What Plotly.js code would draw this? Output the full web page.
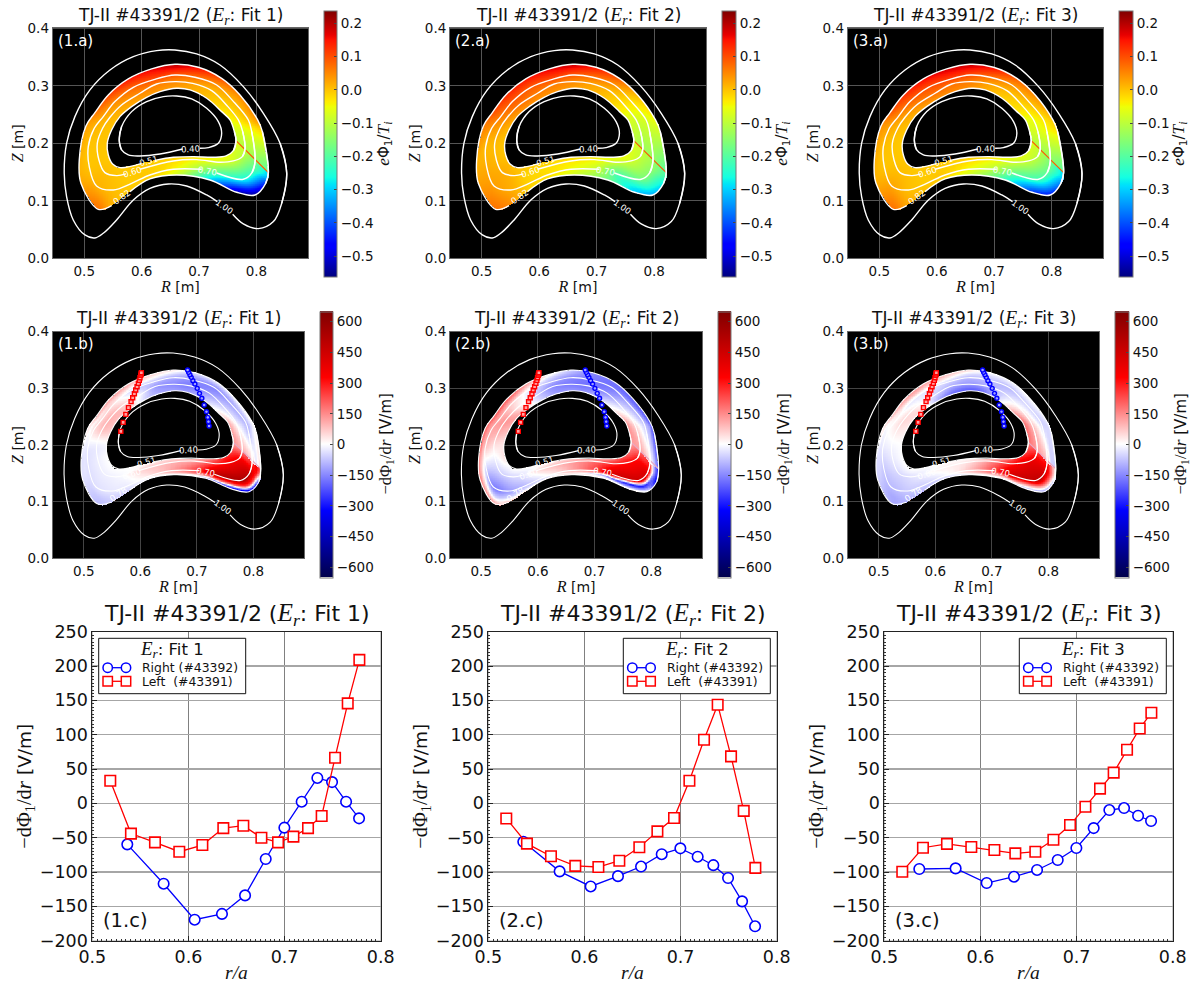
<!DOCTYPE html>
<html><head><meta charset="utf-8">
<script src="https://cdn.plot.ly/plotly-3.0.1.min.js"></script>
<style>html,body{margin:0;padding:0;background:#fff}</style></head>
<body><div id="chart" style="width:1195px;height:987px"></div>
<script>
// ---- flux surfaces, stations along the surface starting at the seam (R, Z in m)
const R51=[.7645,.7599,.7471,.7250,.6901,.6552,.6233,.6000,.5622,.5494,.5419,.5401,.5477,.5622,.5826,.6087,.6320,.6610,.6843,.7134,.7395,.7541,.7616,.7645];
const Z51=[.2046,.1872,.1780,.1757,.1768,.1757,.1704,.1652,.1577,.1641,.1797,.2000,.2232,.2464,.2638,.2800,.2899,.2957,.2928,.2783,.2551,.2406,.2203,.2046];
const R60=[.7802,.7756,.7599,.7366,.6959,.6552,.5971,.5727,.5564,.5360,.5256,.5227,.5320,.5448,.5651,.5971,.6262,.6581,.6890,.7221,.7494,.7686,.7762,.7802];
const Z60=[.1901,.1768,.1693,.1670,.1716,.1693,.1548,.1467,.1438,.1490,.1710,.2000,.2261,.2452,.2667,.2870,.3032,.3072,.3043,.2916,.2649,.2406,.2203,.1901];
const R70=[.7977,.7924,.7773,.7308,.7047,.6552,.6145,.5826,.5506,.5215,.5087,.5070,.5174,.5331,.5535,.5855,.6233,.6581,.6930,.7308,.7587,.7860,.7919,.7977];
const Z70=[.1681,.1490,.1374,.1484,.1548,.1548,.1449,.1304,.1188,.1258,.1594,.1942,.2261,.2464,.2725,.2974,.3113,.3188,.3148,.3014,.2742,.2406,.2203,.1681];
const R82=[.8209,.8163,.7977,.7657,.7192,.6610,.6145,.5797,.5477,.5244,.4942,.4913,.5029,.5186,.5419,.5767,.6174,.6581,.6988,.7395,.7715,.8023,.8105,.8209];
const Z82=[.1490,.1304,.1101,.1148,.1362,.1449,.1380,.1159,.0916,.0852,.1304,.1710,.2301,.2533,.2841,.3119,.3293,.3374,.3322,.3130,.2841,.2406,.2203,.1490];
const R78=[.8130,.8098,.7922,.7610,.7153,.6594,.6145,.5805,.5485,.5236,.4981,.4955,.5068,.5225,.5450,.5791,.6190,.6581,.6972,.7372,.7680,.7979,.8055,.8130];
const Z78=[.1580,.1354,.1175,.1226,.1412,.1476,.1399,.1198,.0989,.0962,.1382,.1773,.2290,.2514,.2810,.3080,.3244,.3324,.3275,.3099,.2814,.2406,.2203,.1580];
const R40=[.5610,.5651,.5826,.6087,.6378,.6610,.6872,.7134,.7337,.7395,.7337,.7163,.7017,null,.6715,.6320,.5971,.5767,.5651,.5610];
const Z40=[.2058,.2290,.2551,.2725,.2812,.2823,.2771,.2609,.2377,.2174,.2000,.1925,.1913,null,.1901,.1814,.1780,.1797,.1884,.2058];
const R100=[.8529,.8442,.8297,.8035,.7773,.7587,null,.7320,.7134,.6785,.6465,.6145,.5855,.5564,.5331,.5186,.5012,.4808,.4692,.4651,.4692,.4837,.5099,.5448,.5855,.6262,.6581,.6959,.7366,.7773,.8122,.8413,.8529];
const Z100=[.1478,.0957,.0638,.0516,.0597,.0765,null,.0986,.1101,.1258,.1293,.1217,.1014,.0667,.0435,.0354,.0406,.0667,.1072,.1478,.2000,.2464,.2928,.3275,.3507,.3612,.3623,.3554,.3362,.2986,.2522,.2000,.1478];

// ---- e*Phi1/Ti on the surfaces [0.51, 0.60, 0.70, 0.82], one row per station
const phi1=[[-.06,-.09,-.17,-.3],[-.07,-.1,-.22,-.42],[-.05,-.08,-.26,-.55],[-.04,-.07,-.2,-.52],[-.02,-.04,-.13,-.3],[-.01,-.02,-.04,-.08],[-.005,-.005,-.005,-.015],[-.005,-.005,-.005,-.005],[-.005,0,.005,.015],[0,.005,.015,.07],[-.005,0,0,.025],[0,0,0,.015],[0,.005,.012,.03],[.01,.015,.025,.065],[.02,.03,.05,.11],[.03,.05,.08,.15],[.035,.06,.1,.17],[.03,.05,.09,.2],[.02,.03,.07,.16],[0,.01,.04,.1],[-.03,-.01,.01,.05],[-.05,-.03,0,.04],[-.08,-.07,-.05,-.02],[-.1,-.11,-.14,-.2]];
const phi2=[[-.07,-.09,-.13,-.21],[-.07,-.09,-.15,-.27],[-.05,-.08,-.17,-.33],[-.05,-.08,-.2,-.3],[-.03,-.04,-.1,-.18],[-.02,-.03,-.05,-.08],[-.01,-.02,-.02,-.03],[-.01,-.01,-.01,-.01],[0,.01,.02,.05],[.01,.02,.03,.07],[0,.01,.02,.03],[0,.01,.01,.02],[.01,.03,.04,.06],[.03,.05,.06,.1],[.04,.07,.09,.13],[.04,.06,.09,.15],[.04,.06,.1,.17],[.03,.05,.09,.19],[.02,.03,.07,.15],[0,.01,.04,.09],[-.04,-.03,-.02,.01],[-.07,-.08,-.07,-.05],[-.09,-.1,-.09,-.08],[-.1,-.13,-.14,-.2]];
const phi3=[[-.07,-.1,-.17,-.3],[-.07,-.1,-.19,-.36],[-.06,-.09,-.22,-.45],[-.05,-.08,-.18,-.42],[-.02,-.04,-.11,-.24],[-.01,-.02,-.05,-.09],[-.005,-.005,-.005,-.025],[-.005,-.005,-.005,.005],[-.005,0,.005,.025],[0,.005,.025,.07],[-.005,0,0,.02],[-.005,0,.005,.02],[0,.01,.025,.045],[.015,.025,.045,.09],[.03,.05,.08,.13],[.04,.07,.1,.16],[.05,.07,.11,.18],[.04,.06,.1,.19],[.02,.03,.07,.16],[-.01,.01,.04,.09],[-.03,-.02,.01,.05],[-.06,-.05,-.03,0],[-.08,-.07,-.05,-.03],[-.1,-.12,-.15,-.2]];

// ---- -dPhi1/dr on the surfaces [0.51, 0.60, 0.70, 0.74, 0.78], one row per station
const dphi1=[[120,180,280,350,200],[250,330,480,250,-250],[280,350,540,220,-500],[180,280,480,180,-450],[60,130,280,150,-150],[50,100,120,60,-20],[30,50,30,0,-40],[10,0,-20,-40,-60],[0,-15,-30,-55,-65],[0,-20,-40,-70,-85],[0,-20,-40,-35,-40],[-10,-20,-30,-30,-40],[60,80,40,0,40],[80,100,60,20,100],[80,70,30,60,130],[-60,0,-60,40,110],[-100,-130,-80,0,60],[-120,-150,-110,-40,40],[-120,-170,-140,-100,-30],[-60,-130,-160,-90,-20],[40,-60,-120,-80,0],[100,-20,-100,-40,20],[130,30,-80,-20,20],[130,100,60,-30,60]];
const dphi2=[[120,200,280,-100,-300],[180,300,420,-150,-350],[220,320,450,-300,20],[150,280,430,-250,30],[80,180,260,-80,60],[60,120,100,20,40],[30,40,-10,-40,40],[10,-30,-80,-50,40],[0,-50,-130,-60,80],[0,-60,-170,-50,130],[40,-30,-60,40,180],[30,40,70,90,170],[80,110,110,140,210],[120,130,110,140,220],[60,30,60,140,220],[-60,-60,-30,60,140],[-120,-150,-100,-50,30],[-130,-170,-150,-100,-60],[-130,-180,-170,-160,-150],[-50,-140,-170,-180,-180],[60,-40,-110,-170,-200],[130,30,-80,-130,-220],[150,80,-50,-100,-230],[120,120,40,-60,-200]];
const dphi3=[[170,250,320,160,-20],[250,350,440,200,-100],[280,380,480,150,-160],[180,300,420,160,-120],[40,140,250,120,-40],[10,40,70,30,-30],[10,10,-20,-50,-70],[0,-20,-60,-80,-90],[0,-40,-70,-90,-100],[0,-50,-90,-110,-110],[0,-30,-70,-60,-60],[0,-10,-30,-40,-40],[20,30,0,-10,50],[40,50,10,20,90],[40,20,-30,70,130],[-120,-50,-30,70,130],[-200,-100,-60,20,90],[-220,-130,-90,-30,60],[-180,-110,-80,-50,0],[-30,-60,-90,-40,-10],[130,10,-60,-30,0],[180,60,-60,-50,-30],[190,100,-30,-50,-40],[180,120,80,-60,-60]];

// ---- measurement points drawn over the (b) maps
const leftR=[.5655,.5696,.5743,.579,.5836,.5865,.5895,.5918,.5942,.5965,.5982,.5994,.6006,.6012,.6018];
const leftZ=[.2241,.24,.2541,.2659,.2765,.2835,.2906,.2971,.3029,.3088,.3141,.3188,.3229,.3253,.3276];
const rightR=[.7216,.7205,.7193,.717,.7129,.7088,.7047,.7006,.6965,.693,.69,.6877,.6854,.6836];
const rightZ=[.2335,.2412,.2488,.2588,.2706,.2824,.2912,.3,.3076,.3135,.3194,.3241,.3282,.3324];

// ---- profiles (c)
const rightX=[.5364,.5742,.6065,.6349,.6589,.6804,.6998,.7178,.7341,.7494,.764,.7775];
const leftX=[.5187,.5402,.5652,.5905,.6145,.6363,.6571,.6759,.6932,.7092,.7244,.7386,.7525,.7657,.7778];
const rightFit1=[-59.7,-117,-169.4,-161,-134,-81,-35.4,2.4,37,31,2.4,-21.8];
const leftFit1=[33,-44,-56.8,-70.4,-60.7,-36,-32.5,-50,-56.8,-48.5,-36,-18.4,66.5,145.6,209];
const rightFit2=[-56,-99,-121,-106,-92,-74,-65.5,-77.7,-90,-108.7,-142.7,-179];
const leftFit2=[-22,-58.7,-77,-91,-92.7,-83.5,-64,-40.8,-21.4,33,92.7,143.7,68.4,-11,-94];
const rightFit3=[-95.6,-94.7,-116,-106.8,-97,-82.5,-65,-36,-9.7,-6.8,-18,-25.7];
const leftFit3=[-99.5,-64.6,-59,-63.6,-68,-72.8,-70.4,-53,-31.6,-4.9,21.4,44.7,78,109,132];
const legendNames=['Right (#43392)','Left  (#43391)'];
const fitNames=['Fit 1','Fit 2','Fit 3'];

// ---- colour maps
const jet=[[0,'#00007f'],[.11,'#0000ff'],[.125,'#0000ff'],[.34,'#00dbff'],[.35,'#00e6f7'],[.375,'#15ffe2'],[.64,'#eeff08'],[.65,'#f7f500'],[.66,'#ffec00'],[.89,'#ff1300'],[.91,'#e80000'],[1,'#7f0000']];
const seismic=[[0,'#00004c'],[.25,'#0000ff'],[.5,'#ffffff'],[.75,'#ff0000'],[1,'#7f0000']];

// ---- page layout (pixels of the 1195x987 page)
const px=v=>v/1195, py=v=>1-v/987;
const colA=[[52.7,308],[450,706],[847.7,1103.3]];
const colB=[[52.7,304.3],[450,702.3],[847.7,1099.3]];
const colC=[[92.3,380.7],[488.3,776.7],[884.3,1172.7]];
const cbA=[[324,337.3],[721.7,735.3],[1119,1132.7]];
const cbB=[[320,333.3],[718.3,731.7],[1115,1129]];
const cbTitleX=[[385,783,1180],[385,783,1180]];
const legendLeft=[98.7,623.3,1019.3];

const mi=s=>`<span style="font-family:Liberation Serif;font-style:italic;font-size:1.15em">${s}</span>`;
const ser=s=>`<span style="font-family:Liberation Serif;font-size:1.1em">${s}</span>`;
const sansF='DejaVu Sans';
const title=i=>`TJ-II #43391/2 (${mi('E')}<sub>${mi('r')}</sub>: ${fitNames[i]})`;
const gradLabel=ser('−dΦ')+'<sub>'+ser('1')+'</sub>'+ser('/d')+mi('r')+' [V/m]';

const data=[], annotations=[], shapes=[], layout={
  width:1195,height:987,margin:{l:0,r:0,t:0,b:0},paper_bgcolor:'#fff',plot_bgcolor:'#000',
  showlegend:false,font:{family:sansF,color:'#111'},annotations,shapes};

function closedGapped(R,Z,g){
  const f=A=>[A[22],...A.slice(0,g+1),null,...A.slice(g+1),A[1]];
  return [f(R),f(Z)];
}
function closedPath(A,n){return [A[n],...A,A[1]];}
function mid(A,B){return A.map((v,k)=>(v+B[k])/2);}

// ---- lays the read table (surfaces x stations) on the regular image grid of a heatmap
const gridR=Array.from({length:384},(_,k)=>.445+(k+.5)*(.89-.445)/384);
const gridZ=Array.from({length:345},(_,k)=>(k+.5)*.4/345);
function curve(A,closed,f){
  const n=A.length-1,out=[];
  const at=k=>closed?A[((k%n)+n)%n]:A[Math.max(0,Math.min(n,k))];
  for(let k=0;k<n;k++)for(let q=0;q<f;q++){
    const t=q/f,p0=at(k-1),p1=at(k),p2=at(k+1),p3=at(k+2);
    out.push(.5*(2*p1+(p2-p0)*t+(2*p0-5*p1+4*p2-p3)*t*t+(3*p1-p0-3*p2+p3)*t*t*t));
  }
  out.push(A[n]);return out;
}
function imageOf(surf,table){
  const f=5;
  const RR=surf.map(s=>curve(s[0],true,f)),ZZ=surf.map(s=>curve(s[1],true,f));
  const VV=surf.map((_,c)=>curve(table.map(r=>r[c]),false,f));
  const z=gridZ.map(()=>gridR.map(()=>null));
  const dR=gridR[1]-gridR[0],dZ=gridZ[1]-gridZ[0];
  function tri(x1,y1,v1,x2,y2,v2,x3,y3,v3){
    const d=(y2-y3)*(x1-x3)+(x3-x2)*(y1-y3);if(Math.abs(d)<1e-14)return;
    const i0=Math.max(0,Math.floor((Math.min(x1,x2,x3)-gridR[0])/dR)),i1=Math.min(gridR.length-1,Math.ceil((Math.max(x1,x2,x3)-gridR[0])/dR));
    const j0=Math.max(0,Math.floor((Math.min(y1,y2,y3)-gridZ[0])/dZ)),j1=Math.min(gridZ.length-1,Math.ceil((Math.max(y1,y2,y3)-gridZ[0])/dZ));
    for(let j=j0;j<=j1;j++)for(let i=i0;i<=i1;i++){
      const a=((y2-y3)*(gridR[i]-x3)+(x3-x2)*(gridZ[j]-y3))/d,b=((y3-y1)*(gridR[i]-x3)+(x1-x3)*(gridZ[j]-y3))/d,c=1-a-b;
      if(a>=-.001&&b>=-.001&&c>=-.001)z[j][i]=a*v1+b*v2+c*v3;
    }
  }
  for(let s=0;s<surf.length-1;s++)for(let k=0;k<RR[0].length-1;k++){
    tri(RR[s][k],ZZ[s][k],VV[s][k],RR[s+1][k],ZZ[s+1][k],VV[s+1][k],RR[s+1][k+1],ZZ[s+1][k+1],VV[s+1][k+1]);
    tri(RR[s][k],ZZ[s][k],VV[s][k],RR[s+1][k+1],ZZ[s+1][k+1],VV[s+1][k+1],RR[s][k+1],ZZ[s][k+1],VV[s][k+1]);
  }
  return z;
}

let axN=0;
function addAxes(col,top,bottom,kind){
  axN++;const s=axN===1?'':axN;
  const base={showline:true,mirror:true,zeroline:false,automargin:false};
  if(kind!=='c'){
    const grid=kind==='a'?'#555':'#444';
    layout['xaxis'+s]={...base,anchor:'y'+s,domain:[px(col[0]),px(col[1])],range:[.445,.89],tickvals:[.5,.6,.7,.8],tickformat:'.1f',
      showgrid:true,gridcolor:grid,gridwidth:1,linecolor:'#666',linewidth:1,ticks:'',tickfont:{size:13.5,family:sansF},
      title:{text:mi('R')+' [m]',font:{size:14,family:sansF},standoff:0}};
    layout['yaxis'+s]={...base,anchor:'x'+s,domain:[py(bottom),py(top)],range:[0,.4],dtick:.1,tick0:0,tickformat:'.1f',
      showgrid:true,gridcolor:grid,gridwidth:1,linecolor:'#666',linewidth:1,ticks:'',tickfont:{size:13.5,family:sansF},
      title:{text:mi('Z')+' [m]',font:{size:14,family:sansF},standoff:0}};
  } else {
    layout['xaxis'+s]={...base,anchor:'y'+s,domain:[px(col[0]),px(col[1])],range:[.5,.8],dtick:.1,tick0:.5,tickformat:'.1f',
      showgrid:true,gridcolor:'#808080',gridwidth:1,linecolor:'#222',linewidth:1,ticks:'inside',ticklen:5,tickcolor:'#222',
      minor:{ticks:'inside',ticklen:2,dtick:.005,tickcolor:'#333',showgrid:false},
      tickfont:{size:17.5,family:sansF},title:{text:mi('r/a'),font:{size:17},standoff:1}};
    layout['yaxis'+s]={...base,anchor:'x'+s,domain:[py(bottom),py(top)],range:[-200,250],dtick:50,tick0:0,
      showgrid:true,gridcolor:'#a6a6a6',gridwidth:1.5,linecolor:'#222',linewidth:1,ticks:'inside',ticklen:5,tickcolor:'#222',
      minor:{ticks:'inside',ticklen:2,dtick:5,tickcolor:'#333',showgrid:false},
      tickfont:{size:17.5,family:sansF},
      title:{text:gradLabel,font:{size:18.5,family:sansF},standoff:3}};
  }
  return {x:'x'+s,y:'y'+s};
}

function contourLines(ax,outerR,outerZ,w){
  const L=[[closedPath(R40,18),closedPath(Z40,18)],closedGapped(R51,Z51,6),closedGapped(R60,Z60,6),closedGapped(R70,Z70,3),closedGapped(outerR,outerZ,7),[closedPath(R100,31),closedPath(Z100,31)]];
  L.forEach(p=>data.push({type:'scatter',mode:'lines',x:p[0],y:p[1],xaxis:ax.x,yaxis:ax.y,hoverinfo:'skip',
    line:{color:'#fff',width:w,shape:'spline',smoothing:1},connectgaps:false}));
}

function contourLabels(ax,outerName,outerPos){
  const L=[['0.40',.6855,.1904,-3],['0.51',.6116,.1699,-15],['0.60',.5843,.1496,-18],['0.70',.7145,.1519,10],[outerName,outerPos[0],outerPos[1],-35],['1.00',.7453,.0899,35]];
  L.forEach(l=>annotations.push({xref:ax.x,yref:ax.y,x:l[1],y:l[2],text:l[0],textangle:l[3],showarrow:false,
    font:{size:8.5,color:'#fff',family:sansF},xanchor:'center',yanchor:'middle'}));
}

function mapPanel(i,kind,col,top,bottom,cb,cbTop,cbBottom,surf,table,zmin,zmax,scale,cbOpts,tag,seamColor,outerName,outerPos,cbTitle,cbTx,lw){
  const ax=addAxes(col,top,bottom,kind);
  data.push({type:'heatmap',x:gridR,y:gridZ,z:imageOf(surf,table),xaxis:ax.x,yaxis:ax.y,zauto:false,zmin,zmax,colorscale:scale,hoverinfo:'skip',hoverongaps:false,
    colorbar:{x:px(cb[0]),xanchor:'left',xpad:0,ypad:0,thickness:cb[1]-cb[0],thicknessmode:'pixels',
      y:py((cbTop+cbBottom)/2),yanchor:'middle',lenmode:'fraction',len:(cbBottom-cbTop)/987,
      outlinecolor:'#777',outlinewidth:1,ticks:'inside',ticklen:3,tickcolor:'#444',tickfont:{size:13.5,family:sansF},...cbOpts}});
  const outer=surf[surf.length-1];
  data.push({type:'scatter',mode:'lines',x:[R51[0],outer[0][0]],y:[Z51[0],outer[1][0]],xaxis:ax.x,yaxis:ax.y,hoverinfo:'skip',line:{color:seamColor,width:1.2}});
  contourLines(ax,outer[0],outer[1],lw);
  contourLabels(ax,outerName,outerPos);
  annotations.push({xref:'paper',yref:'paper',x:px((col[0]+col[1])/2),y:py(top-12.5),text:title(i),showarrow:false,xanchor:'center',yanchor:'middle',font:{size:17,family:sansF,color:'#111'}});
  annotations.push({xref:'paper',yref:'paper',x:px(col[0]+3),y:py(top+12.5),text:tag,showarrow:false,xanchor:'left',yanchor:'middle',font:{size:15,color:'#fff',family:sansF}});
  annotations.push({xref:'paper',yref:'paper',x:px(cbTx),y:py((cbTop+cbBottom)/2),text:cbTitle,textangle:-90,showarrow:false,xanchor:'center',yanchor:'middle',font:{size:15,color:'#111',family:sansF}});
  return ax;
}

const tablesA=[phi1,phi2,phi3], tablesB=[dphi1,dphi2,dphi3];
const rightC=[rightFit1,rightFit2,rightFit3], leftC=[leftFit1,leftFit2,leftFit3];
const surfA=[[R51,Z51],[R60,Z60],[R70,Z70],[R82,Z82]];
const surfB=[[R51,Z51],[R60,Z60],[R70,Z70],[mid(R70,R78),mid(Z70,Z78)],[R78,Z78]];

for(let i=0;i<3;i++){
  mapPanel(i,'a',colA[i],28.3,258.3,cbA[i],10.7,276.7,surfA,tablesA[i],-.562,.238,jet,
    {tick0:-.5,dtick:.1,tickformat:'.1f'},`(${i+1}.a)`,'#ff5500','0.82',[.5651,.1072],
    mi('e')+'Φ<sub>1</sub>/'+mi('T')+'<sub>'+mi('i')+'</sub>',cbTitleX[0][i],1.4);
}
for(let i=0;i<3;i++){
  const ax=mapPanel(i,'b',colB[i],331.7,558.3,cbB[i],311.7,577.3,surfB,tablesB[i],-650,650,seismic,
    {tick0:-600,dtick:150},`(${i+1}.b)`,'#e8a8c4','0.78',[.5614,.1129],gradLabel,cbTitleX[1][i],1.1);
  data.push({type:'scatter',mode:'markers',x:rightR,y:rightZ,xaxis:ax.x,yaxis:ax.y,hoverinfo:'skip',
    marker:{symbol:'circle',size:4,color:'#a0a0ff',line:{color:'#0000ff',width:1.4}}});
  data.push({type:'scatter',mode:'markers',x:leftR,y:leftZ,xaxis:ax.x,yaxis:ax.y,hoverinfo:'skip',
    marker:{symbol:'square',size:4,color:'#ffa0a0',line:{color:'#ff0000',width:1.4}}});
}
for(let i=0;i<3;i++){
  const ax=addAxes(colC[i],631.7,940.7,'c');
  shapes.push({type:'rect',layer:'below',xref:'paper',yref:'paper',x0:px(colC[i][0]),x1:px(colC[i][1]),y0:py(940.7),y1:py(631.7),fillcolor:'#fff',line:{width:0}});
  data.push({type:'scatter',mode:'lines+markers',name:legendNames[0],x:rightX,y:rightC[i],xaxis:ax.x,yaxis:ax.y,
    line:{color:'#0000ff',width:1.3},marker:{symbol:'circle',size:10.5,color:'#fff',line:{color:'#0000ff',width:1.6}}});
  data.push({type:'scatter',mode:'lines+markers',name:legendNames[1],x:leftX,y:leftC[i],xaxis:ax.x,yaxis:ax.y,
    line:{color:'#ff0000',width:1.3},marker:{symbol:'square',size:10.5,color:'#fff',line:{color:'#ff0000',width:1.6}}});
  annotations.push({xref:'paper',yref:'paper',x:px((colC[i][0]+colC[i][1])/2),y:py(614),text:title(i),showarrow:false,xanchor:'center',yanchor:'middle',font:{size:22,family:sansF,color:'#111'}});
  annotations.push({xref:'paper',yref:'paper',x:px(colC[i][0]+9),y:py(920.7),text:`(${i+1}.c)`,showarrow:false,xanchor:'left',yanchor:'middle',font:{size:19.5,color:'#111',family:sansF}});
  const L=legendLeft[i];
  shapes.push({type:'rect',layer:'above',xref:'paper',yref:'paper',x0:px(L),x1:px(L+147),y0:py(693.7),y1:py(638.3),fillcolor:'#fff',line:{color:'#111',width:1}});
  annotations.push({xref:'paper',yref:'paper',x:px(L+73.5),y:py(649.5),text:mi('E')+'<sub>'+mi('r')+'</sub>: '+fitNames[i],showarrow:false,xanchor:'center',yanchor:'middle',font:{size:16.5,family:sansF,color:'#111'}});
  [[667.7,'#0000ff','circle'],[681.3,'#ff0000','rect']].forEach((row,k)=>{
    const [yy,c,kind]=row;
    shapes.push({type:'line',layer:'above',xref:'paper',yref:'paper',x0:px(L+9),x1:px(L+27.3),y0:py(yy),y1:py(yy),line:{color:c,width:1.3}});
    [L+9,L+27.3].forEach(cx=>shapes.push({type:kind,layer:'above',xref:'paper',yref:'paper',x0:px(cx-4.7),x1:px(cx+4.7),y0:py(yy+4.7),y1:py(yy-4.7),fillcolor:'#fff',line:{color:c,width:1.5}}));
    annotations.push({xref:'paper',yref:'paper',x:px(L+41.7),y:py(yy),text:legendNames[k].replace('  ','&nbsp;&nbsp;'),showarrow:false,xanchor:'left',yanchor:'middle',font:{size:12.4,family:sansF,color:'#111'}});
  });
}
Plotly.newPlot('chart',data,layout,{staticPlot:true,displayModeBar:false});
</script></body></html>
